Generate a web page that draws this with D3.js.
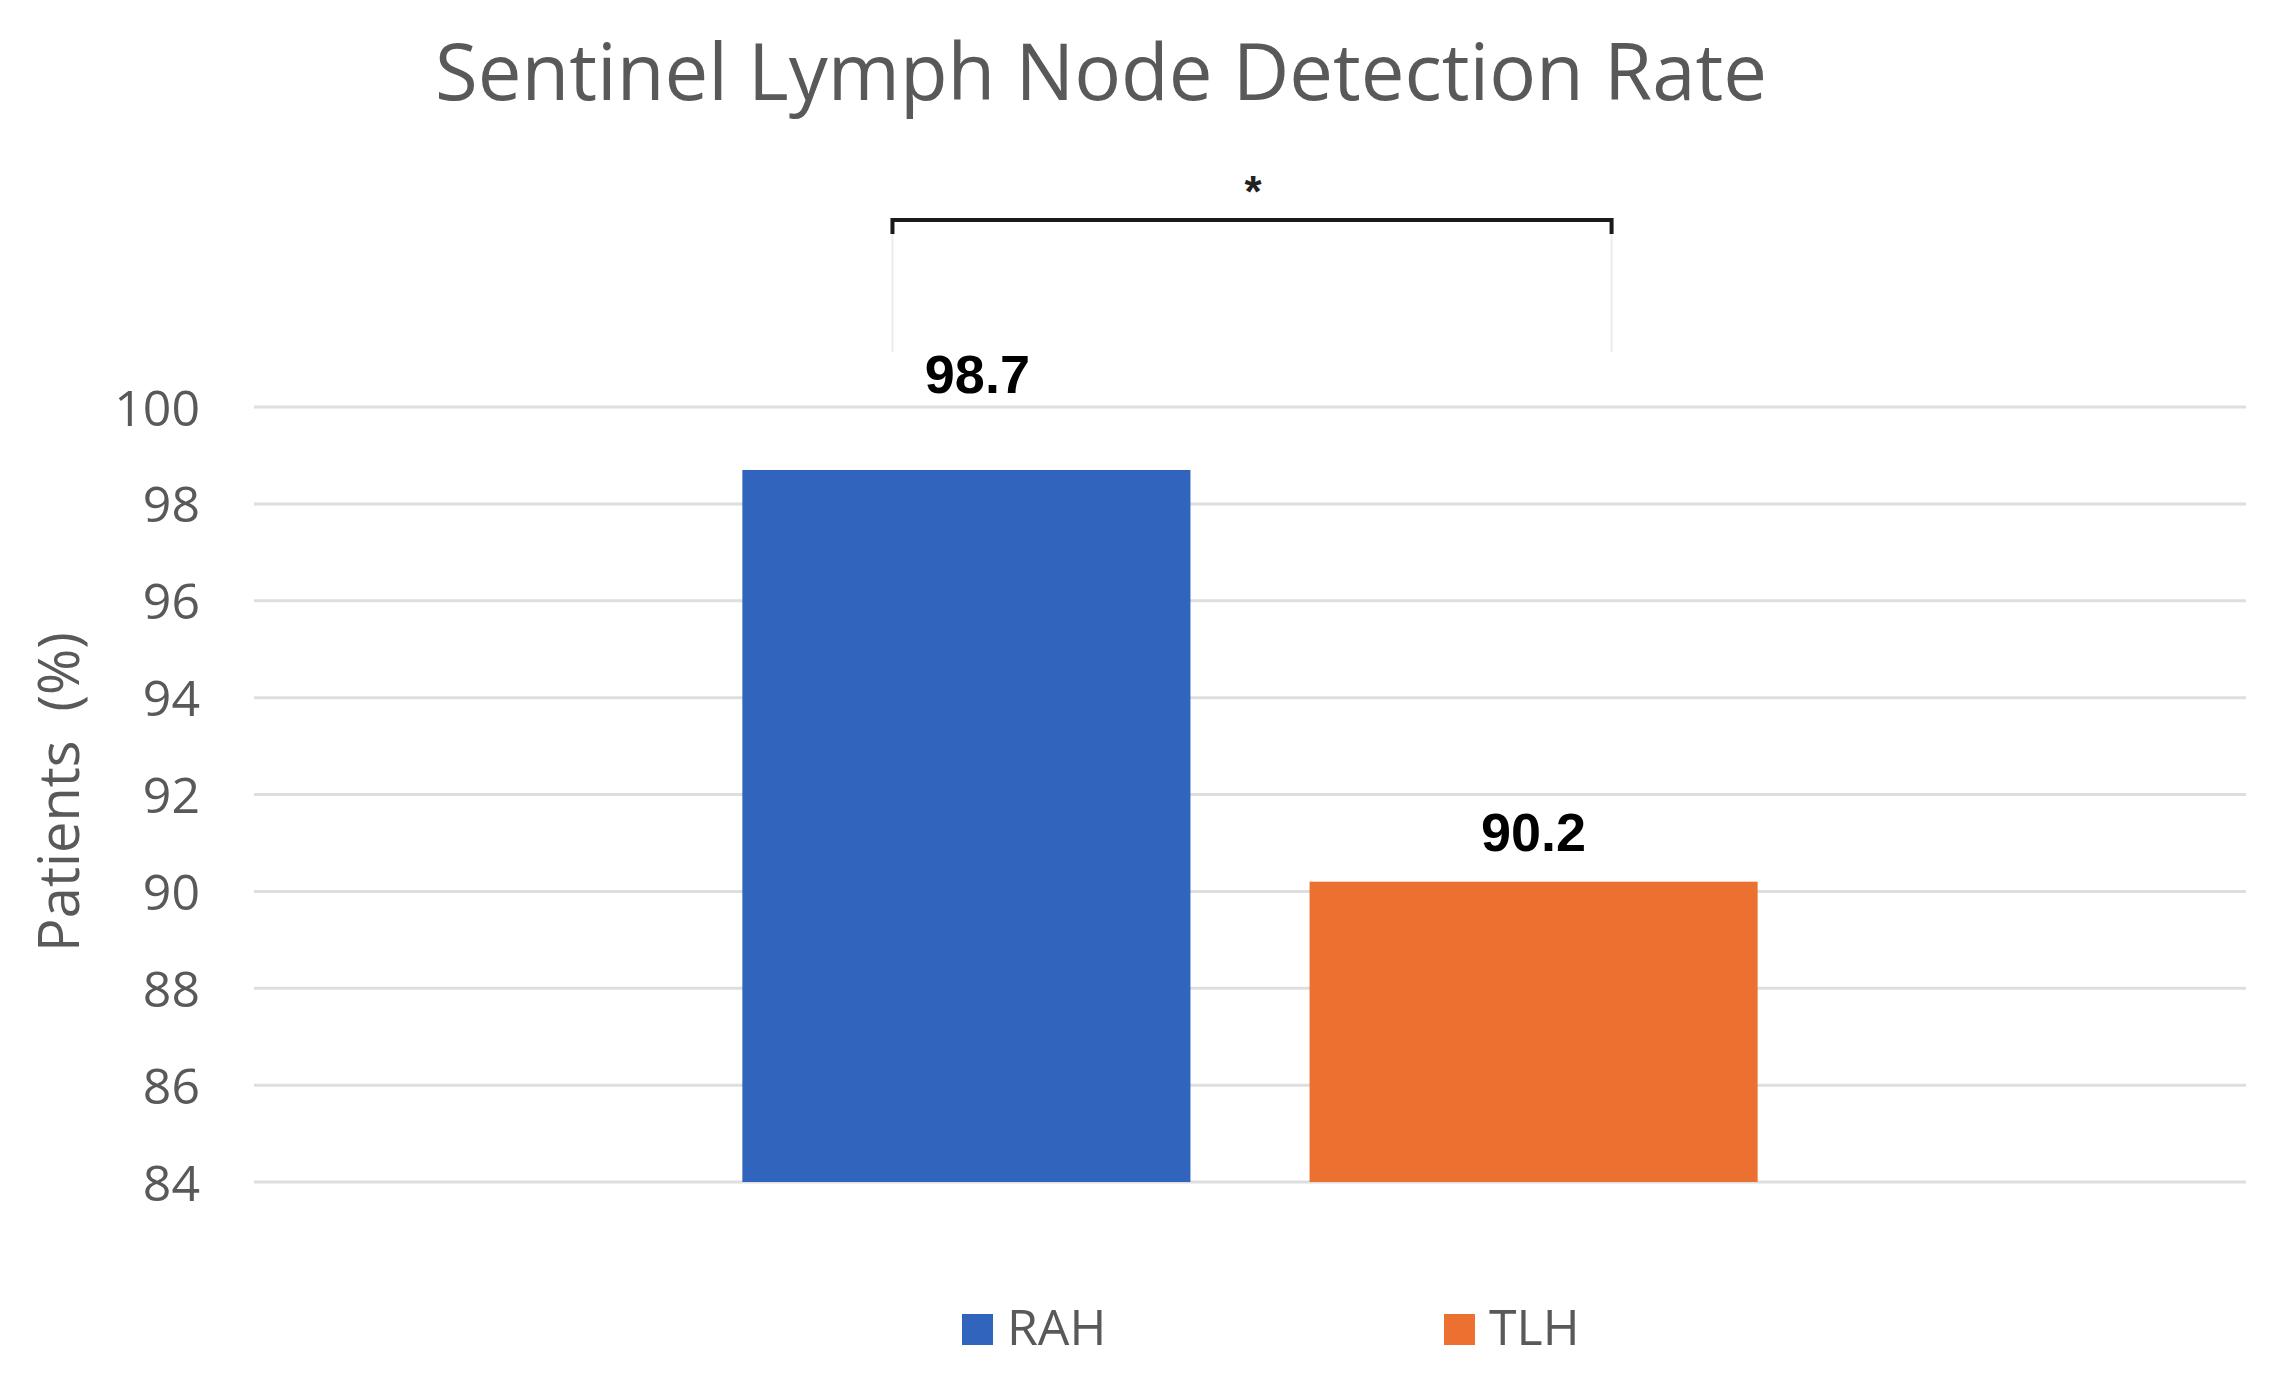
<!DOCTYPE html>
<html>
<head>
<meta charset="utf-8">
<script src="https://cdn.jsdelivr.net/npm/d3@7"></script>
<style>
  body { margin: 0; background: #fff; }
  svg { display: block; }
</style>
</head>
<body>
<div id="chart"></div>
<script>
// --- Data ---
const categories = [""];
const series = ["RAH", "TLH"];
const values = [98.7, 90.2];
const colors = ["#3164bc", "#ec7030"];
const yTicks = [84, 86, 88, 90, 92, 94, 96, 98, 100];
const titleText = "Sentinel Lymph Node Detection Rate";
const yLabel = "Patients  (%)";
const sigMark = "*";

const width = 2277, height = 1386;
const margin = { top: 407, right: 31, bottom: 204, left: 254 };

const svg = d3.select("#chart").append("svg")
    .attr("width", width)
    .attr("height", height);

svg.append("rect").attr("width", width).attr("height", height).attr("fill", "#fff");

// --- Scales ---
const x0 = d3.scaleBand()
    .domain(categories)
    .range([margin.left, width - margin.right])
    .paddingInner(0)
    .paddingOuter(0.481);

const x1 = d3.scaleBand()
    .domain(series)
    .range([0, x0.bandwidth()])
    .paddingInner(0.21)
    .paddingOuter(0);

const y = d3.scaleLinear()
    .domain([84, 100])
    .range([height - margin.bottom, margin.top]);

// --- Gridlines ---
svg.append("g")
    .selectAll("line")
    .data(yTicks)
    .join("line")
    .attr("x1", margin.left)
    .attr("x2", width - margin.right)
    .attr("y1", d => y(d))
    .attr("y2", d => y(d))
    .attr("stroke", "#dedede")
    .attr("stroke-width", 3);

// --- Y axis labels ---
const yAxis = svg.append("g")
    .attr("transform", `translate(${margin.left - 54},0)`)
    .call(d3.axisLeft(y).tickValues(yTicks).tickSize(0).tickPadding(0));
yAxis.select(".domain").remove();
yAxis.selectAll("text")
    .attr("font-family", "'Open Sans', sans-serif")
    .attr("font-size", 50)
    .attr("fill", "#595959")
    .attr("dy", "0.36em");

// y title
svg.append("text")
    .attr("transform", `translate(79,792) rotate(-90)`)
    .attr("text-anchor", "middle")
    .attr("font-family", "'Open Sans', sans-serif")
    .attr("font-size", 56)
    .attr("fill", "#595959")
    .style("white-space", "pre")
    .text(yLabel);

// --- Title ---
svg.append("text")
    .attr("x", 435)
    .attr("y", 100)
    .attr("font-family", "'Open Sans', sans-serif")
    .attr("font-size", 78)
    .attr("fill", "#595959")
    .attr("textLength", 1332)
    .attr("lengthAdjust", "spacingAndGlyphs")
    .text(titleText);

// --- Bars ---
const group = svg.append("g")
    .attr("transform", `translate(${x0(categories[0])},0)`);

group.selectAll("rect")
    .data(series.map((s, i) => ({ s, v: values[i], c: colors[i] })))
    .join("rect")
    .attr("x", d => x1(d.s))
    .attr("width", x1.bandwidth())
    .attr("y", d => y(d.v))
    .attr("height", d => y(84) - y(d.v))
    .attr("fill", d => d.c);

// value labels (first one sits higher in the original)
const labelLift = [77, 31];
const labelShift = [11, 0];
group.selectAll("text.val")
    .data(series.map((s, i) => ({ s, v: values[i], i })))
    .join("text")
    .attr("class", "val")
    .attr("x", d => x1(d.s) + x1.bandwidth() / 2 + labelShift[d.i])
    .attr("y", d => y(d.v) - labelLift[d.i])
    .attr("text-anchor", "middle")
    .attr("font-family", "'Liberation Sans', Arial, sans-serif")
    .attr("font-weight", "bold")
    .attr("font-size", 54)
    .attr("fill", "#000")
    .text(d => d.v.toFixed(1));

// --- Significance bracket ---
const bx0 = x0(categories[0]) + x1(series[0]) + x1.bandwidth() * 0.335;
const bx1 = x0(categories[0]) + x1(series[1]) + x1.bandwidth() * 0.674;
const by = 220;

[bx0, bx1].forEach(bx => {
    svg.append("line")
        .attr("x1", bx).attr("x2", bx)
        .attr("y1", by + 13).attr("y2", 352)
        .attr("stroke", "#ececec")
        .attr("stroke-width", 2);
});

svg.append("path")
    .attr("d", `M${bx0},${by + 14}V${by}H${bx1}V${by + 14}`)
    .attr("fill", "none")
    .attr("stroke", "#1a1a1a")
    .attr("stroke-width", 4);

svg.append("text")
    .attr("x", (bx0 + bx1) / 2 + 1)
    .attr("y", 207)
    .attr("text-anchor", "middle")
    .attr("font-family", "'Liberation Sans', Arial, sans-serif")
    .attr("font-weight", "bold")
    .attr("font-size", 44)
    .attr("fill", "#222")
    .text(sigMark);

// --- Legend ---
const legendX = [962, 1444];
const legend = svg.append("g");
series.forEach((s, i) => {
    legend.append("rect")
        .attr("x", legendX[i])
        .attr("y", 1314)
        .attr("width", 31)
        .attr("height", 31)
        .attr("fill", colors[i]);
    legend.append("text")
        .attr("x", legendX[i] + 45)
        .attr("y", 1345)
        .attr("font-family", "'Open Sans', sans-serif")
        .attr("font-size", 50)
        .attr("fill", "#595959")
        .text(s);
});
</script>
</body>
</html>
